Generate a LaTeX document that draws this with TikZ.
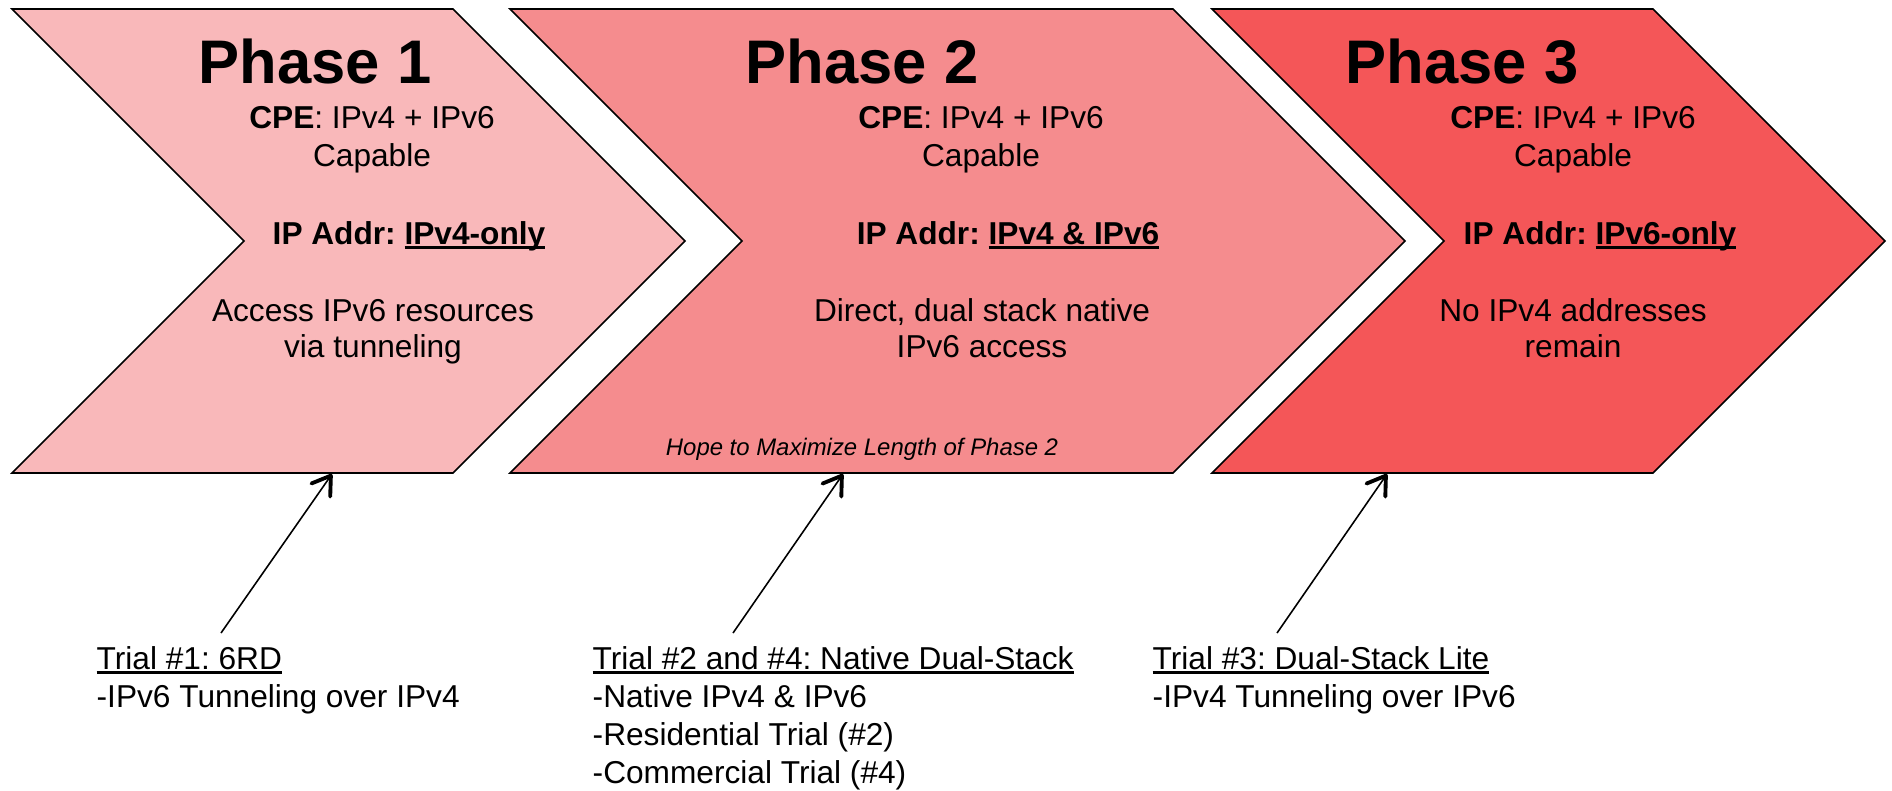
\documentclass[tikz,border=0pt]{standalone}
\usepackage{fontspec}
\setmainfont{Liberation Sans}
\usepackage{xcolor}
\usetikzlibrary{arrows.meta}
\definecolor{phaseA}{HTML}{F9B8BA}
\definecolor{phaseB}{HTML}{F58C8E}
\definecolor{phaseC}{HTML}{F45658}
\newcommand{\ulbar}[1]{\setbox0\hbox{#1}\rlap{\rule[-1.3pt]{\wd0}{0.7pt}}\box0}
\frenchspacing

\begin{document}
\begin{tikzpicture}[x=0.01cm,y=-0.01cm,
  chevron/.style={draw=black,line width=0.45pt,line join=miter},
  title/.style={anchor=base,font=\fontsize{17.5}{21}\selectfont\bfseries},
  body/.style={anchor=base,inner sep=0pt,font=\fontsize{9}{10.8}\selectfont},
  note/.style={anchor=base,inner sep=0pt,font=\fontsize{6.8}{8}\selectfont\itshape},
  trial/.style={anchor=base west,inner sep=0pt,font=\fontsize{9}{10.8}\selectfont},
  pointer/.style={-{Straight Barb[length=5pt,width=6.5pt,line width=1.1pt,round]},line width=0.45pt}]
\fill[white] (0,0) rectangle (1892,790);
\useasboundingbox (0,0) rectangle (1892,790);
% the three phase chevrons
\foreach \n/\xl/\xr/\col in {A/12/453/phaseA,B/510/1173/phaseB,C/1212/1653/phaseC}
  \draw[chevron,fill=\col] (\xl,9) -- (\xr,9) -- ++(232,232) -- ++(-232,232) -- (\xl,473) -- ++(232,-232) -- cycle;
\foreach \n/\x/\k in {A/315/1,B/862/2,C/1462/3}
  \node[title] (title\n) at (\x,83) {Phase \k};
\foreach \n/\x in {A/372,B/981,C/1573} {
  \node[body] (cpe\n) at (\x,128) {\textbf{CPE}: IPv4 + IPv6};
  \node[body] (cap\n) at (\x,166) {Capable};
}
\node[body] (addrA) at (409,244) {\textbf{IP Addr: \ulbar{IPv4-only}}};
\node[body] (addrB) at (1008,244) {\textbf{IP Addr: \ulbar{IPv4 \& IPv6}}};
\node[body] (addrC) at (1600,244) {\textbf{IP Addr: \ulbar{IPv6-only}}};
\node[body] (descA) at (373,321) {Access IPv6 resources};
\node[body] (descAb) at (373,357) {via tunneling};
\node[body] (descB) at (982,321) {Direct, dual stack native};
\node[body] (descBb) at (982,357) {IPv6 access};
\node[body] (descC) at (1573,321) {No IPv4 addresses};
\node[body] (descCb) at (1573,357) {remain};
\node[note] (hope) at (862,455) {Hope to Maximize Length of Phase 2};
% trials below
\node[trial] (trialA) at (96,669) {\ulbar{Trial \#1: 6RD}};
\node[trial] (trialAa) at (96,707) {-IPv6 Tunneling over IPv4};
\node[trial] (trialB) at (592,669) {\ulbar{Trial \#2 and \#4: Native Dual-Stack}};
\node[trial] (trialBa) at (592,707) {-Native IPv4 \& IPv6};
\node[trial] (trialBb) at (592,745) {-Residential Trial (\#2)};
\node[trial] (trialBc) at (592,783) {-Commercial Trial (\#4)};
\node[trial] (trialC) at (1152,669) {\ulbar{Trial \#3: Dual-Stack Lite}};
\node[trial] (trialCa) at (1152,707) {-IPv4 Tunneling over IPv6};
\foreach \n/\xa/\xb in {A/221/332,B/733/843,C/1277/1387} {
  \coordinate (foot\n) at (\xa,633);
  \coordinate (tip\n) at (\xb,474);
  \draw[pointer] (foot\n) -- (tip\n);
}
\end{tikzpicture}
\end{document}
